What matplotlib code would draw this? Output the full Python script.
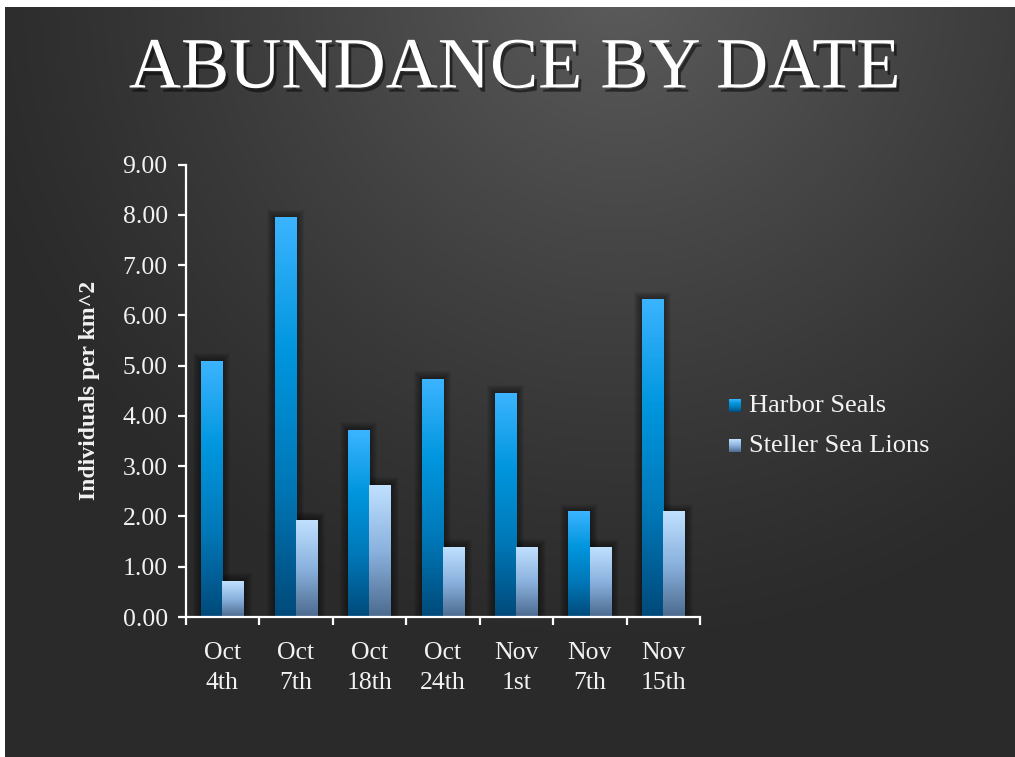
import numpy as np
import matplotlib.pyplot as plt
import matplotlib.patheffects as pe
from matplotlib.colors import LinearSegmentedColormap
from matplotlib.patches import Rectangle

dates = ['Oct\n4th', 'Oct\n7th', 'Oct\n18th', 'Oct\n24th', 'Nov\n1st', 'Nov\n7th', 'Nov\n15th']
harbor_seals = [5.09, 7.94, 3.72, 4.73, 4.45, 2.09, 6.31]
sea_lions = [0.71, 1.93, 2.62, 1.39, 1.39, 1.39, 2.09]
series_names = ['Harbor Seals', 'Steller Sea Lions']
yticks = [0, 1, 2, 3, 4, 5, 6, 7, 8, 9]

W, H = 1015, 757
serif = ['Liberation Serif', 'DejaVu Serif']

cm_harbor = LinearSegmentedColormap.from_list('hs', ['#004a7a', '#0078b8', '#0096de', '#3cb4ff'])
cm_lion = LinearSegmentedColormap.from_list('sl', ['#4c6a8e', '#8ab2de', '#c0e0ff'])

fig = plt.figure(figsize=(W / 100, H / 100), dpi=100)
fig.patch.set_facecolor('white')

# background slide gradient
bg = fig.add_axes([0, 0, 1, 1], zorder=-10)
yy, xx = np.mgrid[0:H, 0:W]
d = np.sqrt((xx - 620.0) ** 2 + (yy + 20.0) ** 2)
t = np.clip(1 - d / 680.0, 0, 1) ** 1.2
g = (0x2a + (0x5c - 0x2a) * t) / 255.0
img = np.dstack([g, g, g])
img[:7, :, :] = 1.0
img[:, :5, :] = 1.0
bg.imshow(img, extent=[0, W, H, 0], aspect='auto', interpolation='bilinear')
bg.set_xlim(0, W)
bg.set_ylim(H, 0)
bg.axis('off')

ax = fig.add_axes([185.7 / W, 1 - 617 / H, (700 - 185.7) / W, (617 - 164.7) / H])
ax.set_facecolor('none')
ax.set_xlim(-0.5, 6.5)
ax.set_ylim(0, 9)

bw = 0.29
grad = np.linspace(0, 1, 256).reshape(-1, 1)
px = 1 / 73.5
py = 9 / 452.0
x = np.arange(len(dates))
for vals, cmap, off in [(harbor_seals, cm_harbor, -bw / 2), (sea_lions, cm_lion, bw / 2)]:
    for xi, v in zip(x, vals):
        x0 = xi + off - bw / 2
        # soft shadow
        for k in range(1, 9):
            ax.add_patch(Rectangle((x0 - k * px, 0), bw + 2 * k * px, v + k * py,
                                   facecolor='black', edgecolor='none', alpha=0.06, zorder=1))
        ax.imshow(grad, extent=[x0, x0 + bw, 0, v], origin='lower', aspect='auto',
                  cmap=cmap, zorder=2, interpolation='bilinear')
ax.set_xlim(-0.5, 6.5)
ax.set_ylim(0, 9)

for s in ['top', 'right']:
    ax.spines[s].set_visible(False)
for s in ['left', 'bottom']:
    ax.spines[s].set_color('white')
    ax.spines[s].set_linewidth(1.6)
    ax.spines[s].set_zorder(5)

ax.set_yticks(yticks)
ax.set_yticklabels(['%.2f' % v for v in yticks])
ax.set_xticks(x)
ax.set_xticklabels(dates, linespacing=1.45)
ax.set_xticks(np.arange(-0.5, 7, 1), minor=True)
ax.tick_params(axis='x', which='major', length=0, pad=18)
ax.tick_params(axis='x', which='minor', length=6, width=1.6, color='white', direction='out')
ax.tick_params(axis='y', length=6, width=1.6, color='white', direction='out', pad=7)
for lab in ax.get_xticklabels() + ax.get_yticklabels():
    lab.set_fontfamily(serif)
    lab.set_fontsize(18.5)
    lab.set_color('#f2f2f2')

ax.set_ylabel('Individuals per km^2', family=serif, fontsize=17, fontweight='bold',
              color='#f2f2f2', labelpad=16)

# title
fig.text(515 / W, 1 - 70 / H, 'ABUNDANCE BY DATE', family=serif, fontsize=52,
         color='white', ha='center', va='center',
         path_effects=[pe.SimplePatchShadow(offset=(2, -3), shadow_rgbFace='black', alpha=0.5),
                       pe.Normal()])

# legend
for i, (name, cmap) in enumerate(zip(series_names, [cm_harbor, cm_lion])):
    cy = 406 + 40 * i
    lax = fig.add_axes([729 / W, 1 - (cy + 6) / H, 12 / W, 13 / H])
    lax.imshow(grad, origin='lower', aspect='auto', cmap=cmap)
    lax.axis('off')
    fig.text(749 / W, 1 - cy / H, name, family=serif, fontsize=19, color='#f2f2f2',
             ha='left', va='center')

fig.savefig('out.png', dpi=100, facecolor=fig.get_facecolor())
